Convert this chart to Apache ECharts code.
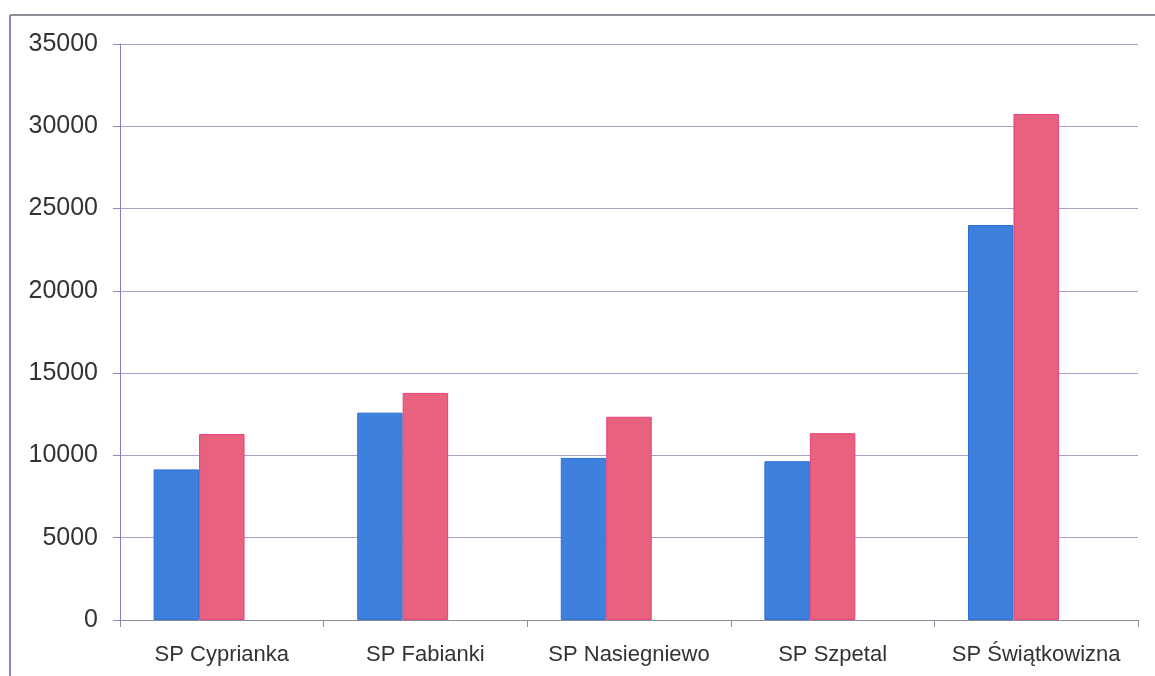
<!DOCTYPE html>
<html>
<head>
<meta charset="utf-8">
<script src="https://cdn.jsdelivr.net/npm/echarts@6/dist/echarts.min.js"></script>
<style>
  html, body { margin: 0; padding: 0; background: #fff; }
  #chart { width: 1155px; height: 676px; }
</style>
</head>
<body>
<div id="chart"></div>
<script>
// kategorie (szkoły)
const categories = ['SP Cyprianka', 'SP Fabianki', 'SP Nasiegniewo', 'SP Szpetal', 'SP Świątkowizna']
// wartości serii
const seriesBlue = [9150, 12600, 9850, 9650, 24000]
const seriesRed = [11300, 13800, 12350, 11350, 30750]
// trzecia seria w oryginale jest pusta (zajmuje miejsce obok słupków)
const seriesEmpty = [null, null, null, null, null]
const yTicks = { min: 0, max: 35000, step: 5000 }

const chart = echarts.init(document.getElementById('chart'))

const option = {
  animation: false,
  backgroundColor: '#fff',
  graphic: [
    {
      type: 'line',
      shape: { x1: 10, y1: 15, x2: 1155, y2: 15 },
      style: { stroke: '#8e8e96', lineWidth: 2 }
    },
    {
      type: 'line',
      shape: { x1: 10, y1: 15, x2: 10, y2: 676 },
      style: { stroke: '#8a86c0', lineWidth: 2 }
    }
  ],
  grid: { left: 120, right: 17, top: 44, bottom: 56 },
  xAxis: {
    type: 'category',
    data: categories,
    axisLine: { lineStyle: { color: '#8c8c9c', width: 1 } },
    axisTick: { show: true, length: 7, inside: false, lineStyle: { color: '#8c8c9c' } },
    axisLabel: {
      color: '#333',
      fontFamily: 'Liberation Sans',
      fontSize: 22,
      margin: 24,
      interval: 0
    },
    splitLine: { show: false }
  },
  yAxis: {
    type: 'value',
    min: yTicks.min,
    max: yTicks.max,
    interval: yTicks.step,
    axisLine: { show: true, lineStyle: { color: '#7f7fc4', width: 1 } },
    axisTick: { show: true, length: 7, lineStyle: { color: '#8c8cb4' } },
    axisLabel: {
      color: '#333',
      fontFamily: 'Liberation Sans',
      fontSize: 25,
      margin: 22,
      formatter: (v) => String(v)
    },
    splitLine: { show: true, lineStyle: { color: '#b09cc8', width: 1 } }
  },
  series: [
    {
      name: 'seria 1',
      type: 'bar',
      data: seriesBlue,
      barGap: '0%',
      barCategoryGap: '33%',
      itemStyle: { color: '#3d80de', borderColor: '#2f6fd0', borderWidth: 1 }
    },
    {
      name: 'seria 2',
      type: 'bar',
      data: seriesRed,
      barGap: '0%',
      barCategoryGap: '33%',
      itemStyle: { color: '#e8617f', borderColor: '#e8407a', borderWidth: 1 }
    },
    {
      name: 'seria 3',
      type: 'bar',
      data: seriesEmpty,
      barGap: '0%',
      barCategoryGap: '33%'
    }
  ]
}

chart.setOption(option)
</script>
</body>
</html>
